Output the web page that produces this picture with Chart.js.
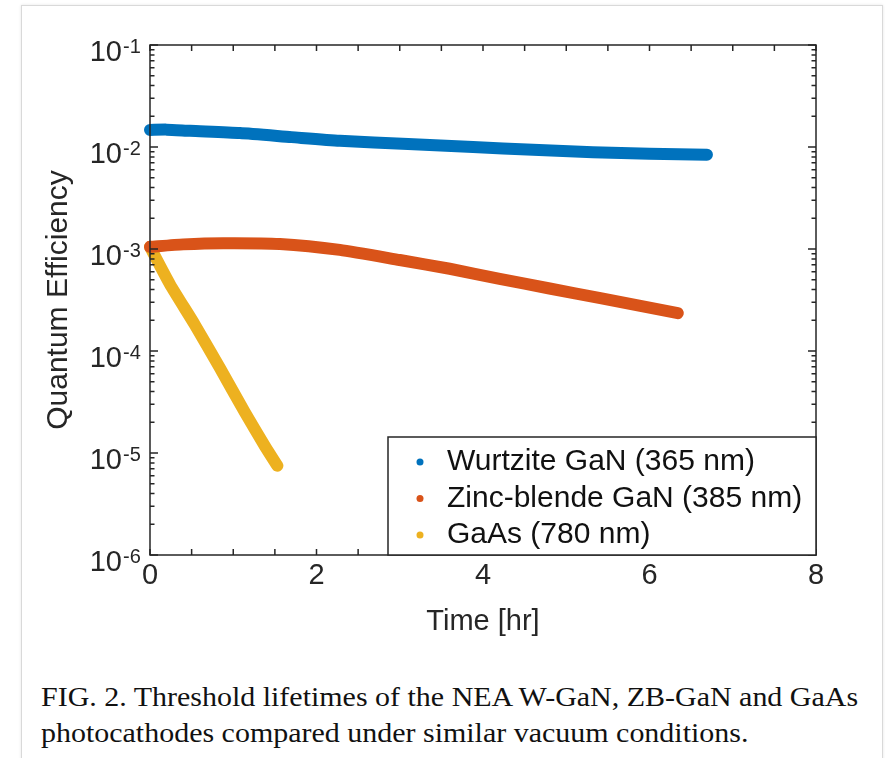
<!DOCTYPE html>
<html>
<head>
<meta charset="utf-8">
<script src="https://cdn.jsdelivr.net/npm/chart.js@4.4.1/dist/chart.umd.min.js"></script>
<style>
  html, body { margin: 0; padding: 0; background: #fff; }
  body { width: 885px; height: 758px; position: relative; overflow: hidden; }
  .card { position: absolute; left: 21px; top: 5px; width: 860px; height: 800px;
          border: 1px solid #d9d9d9; box-shadow: 0 0 3px rgba(0,0,0,0.10); background: #fff; }
  #wrap { position: absolute; left: 0; top: 0; width: 885px; height: 660px; }
  .caption { position: absolute; left: 41px; top: 679px; font-family: "Liberation Serif", serif;
             font-size: 27px; line-height: 36px; color: #111; white-space: nowrap;
             transform: scaleX(1.11); transform-origin: left top; }
</style>
</head>
<body>
<div class="card"></div>
<div id="wrap"><canvas id="myChart" width="885" height="660"></canvas></div>
<div class="caption">FIG. 2. Threshold lifetimes of the NEA W-GaN, ZB-GaN and GaAs<br>photocathodes compared under similar vacuum conditions.</div>
<script>
// data (time in hours, QE)
const wurtziteTime = [0, 0.2, 0.48, 1.08, 1.7, 2.28, 3.1, 3.88, 4.6, 5.32, 6.0, 6.69];
const wurtziteQE = [0.0147, 0.0148, 0.0144, 0.0137, 0.0125, 0.0115, 0.0107, 0.0100, 0.0094, 0.0089, 0.0086, 0.0084];

const zincTime = [0, 0.4, 0.88, 1.56, 2.28, 3.0, 3.6, 4.2, 4.8, 5.41, 6.34];
const zincQE = [1.05e-3, 1.11e-3, 1.14e-3, 1.12e-3, 9.8e-4, 7.8e-4, 6.4e-4, 5.1e-4, 4.1e-4, 3.3e-4, 2.35e-4];

const gaasTime = [0, 0.24, 0.54, 0.84, 1.14, 1.38, 1.53];
const gaasQE = [1.05e-3, 4.5e-4, 1.8e-4, 6.8e-5, 2.5e-5, 1.17e-5, 7.5e-6];

const seriesLabels = ["Wurtzite GaN (365 nm)", "Zinc-blende GaN (385 nm)", "GaAs (780 nm)"];
const seriesColors = ["#0072BD", "#D95319", "#EDB120"];

// ticks
const xTicks = [0, 0.5, 1, 1.5, 2, 2.5, 3, 3.5, 4, 4.5, 5, 5.5, 6, 6.5, 7, 7.5, 8];
const xLabelled = [0, 2, 4, 6, 8];
const yDecades = [1e-6, 1e-5, 1e-4, 1e-3, 1e-2, 1e-1];
const yExponents = ["-6", "-5", "-4", "-3", "-2", "-1"];
const yMinorSteps = [2, 3, 4, 5, 6, 7, 8, 9];

const axisColor = "#262626";
const sans = "'Liberation Sans', Arial, sans-serif";

function toPoints(xs, ys) {
  return xs.map((t, i) => ({ x: t, y: ys[i] }));
}

function lineSet(i, xs, ys) {
  return {
    label: seriesLabels[i],
    data: toPoints(xs, ys),
    showLine: true,
    borderColor: seriesColors[i],
    backgroundColor: seriesColors[i],
    borderWidth: 12,
    borderCapStyle: "round",
    borderJoinStyle: "round",
    tension: 0.2,
    pointRadius: 0,
    clip: false,
  };
}

// box, inward ticks, y labels with superscripts, legend
const axesBox = {
  id: "axesBox",
  afterDatasetsDraw: (chart) => {
    const ctx = chart.ctx;
    const a = chart.chartArea;
    const x = chart.scales.x;
    const y = chart.scales.y;
    ctx.save();
    ctx.strokeStyle = axisColor;
    ctx.lineWidth = 1.5;
    ctx.beginPath();
    x.ticks.forEach((t) => {
      const px = x.getPixelForValue(t.value);
      ctx.moveTo(px, a.bottom);
      ctx.lineTo(px, a.bottom - 6);
      ctx.moveTo(px, a.top);
      ctx.lineTo(px, a.top + 6);
    });
    y.ticks.forEach((t) => {
      const py = y.getPixelForValue(t.value);
      const len = t.major ? 8 : 4.5;
      ctx.moveTo(a.left, py);
      ctx.lineTo(a.left + len, py);
      ctx.moveTo(a.right, py);
      ctx.lineTo(a.right - len, py);
    });
    ctx.stroke();
    ctx.strokeRect(a.left, a.top, a.right - a.left, a.bottom - a.top);

    // y tick labels 10^n
    ctx.fillStyle = axisColor;
    ctx.textBaseline = "alphabetic";
    yDecades.forEach((d, i) => {
      const py = y.getPixelForValue(d);
      ctx.font = "29px " + sans;
      ctx.textAlign = "right";
      ctx.fillText("10", a.left - 28, py + 16);
      ctx.font = "20px " + sans;
      ctx.textAlign = "left";
      ctx.fillText(yExponents[i], a.left - 27, py + 8);
    });

    // legend
    const lx = 388, ly = 437, lr = a.right, lb = a.bottom;
    ctx.fillStyle = "#fff";
    ctx.fillRect(lx, ly, lr - lx, lb - ly);
    ctx.strokeRect(lx, ly, lr - lx, lb - ly);
    ctx.font = "30px " + sans;
    ctx.textAlign = "left";
    ctx.textBaseline = "alphabetic";
    chart.data.datasets.forEach((ds, i) => {
      const cy = 462 + i * 36.5;
      ctx.fillStyle = ds.borderColor;
      ctx.beginPath();
      ctx.arc(420, cy, 3.5, 0, Math.PI * 2);
      ctx.fill();
      ctx.fillStyle = "#111";
      ctx.fillText(ds.label, 447, cy + 8);
    });
    ctx.restore();
  },
};

const data = {
  datasets: [
    lineSet(0, wurtziteTime, wurtziteQE),
    lineSet(1, zincTime, zincQE),
    lineSet(2, gaasTime, gaasQE),
  ],
};

const options = {
  responsive: false,
  animation: false,
  devicePixelRatio: 1,
  layout: { padding: { top: 45, right: 69, left: 0, bottom: 0 } },
  plugins: {
    legend: { display: false },
    tooltip: { enabled: false },
  },
  scales: {
    x: {
      type: "linear",
      min: 0,
      max: 8,
      grid: { display: false, drawTicks: false },
      border: { display: false },
      afterBuildTicks: (scale) => {
        scale.ticks = xTicks.map((v) => ({ value: v }));
      },
      afterFit: (scale) => {
        scale.height = 105;
      },
      ticks: {
        autoSkip: false,
        maxRotation: 0,
        padding: 4,
        color: axisColor,
        font: { family: sans, size: 29 },
        callback: (v) => (xLabelled.includes(v) ? String(v) : ""),
      },
      title: {
        display: true,
        text: "Time [hr]",
        color: axisColor,
        font: { family: sans, size: 29 },
        padding: { top: 0, bottom: 21 },
      },
    },
    y: {
      type: "logarithmic",
      min: 1e-6,
      max: 1e-1,
      grid: { display: false, drawTicks: false },
      border: { display: false },
      afterBuildTicks: (scale) => {
        const list = [];
        yDecades.forEach((d, i) => {
          list.push({ value: d, major: true });
          if (i < yDecades.length - 1) {
            yMinorSteps.forEach((m) => list.push({ value: d * m, major: false }));
          }
        });
        scale.ticks = list;
      },
      afterFit: (scale) => {
        scale.width = 150;
      },
      ticks: { display: false },
      title: {
        display: true,
        text: "Quantum Efficiency",
        color: axisColor,
        font: { family: sans, size: 30 },
        padding: { top: 41, bottom: 0 },
      },
    },
  },
};

const config = {
  type: "scatter",
  data,
  options,
  plugins: [axesBox],
};

new Chart(document.getElementById("myChart"), config);
</script>
</body>
</html>
